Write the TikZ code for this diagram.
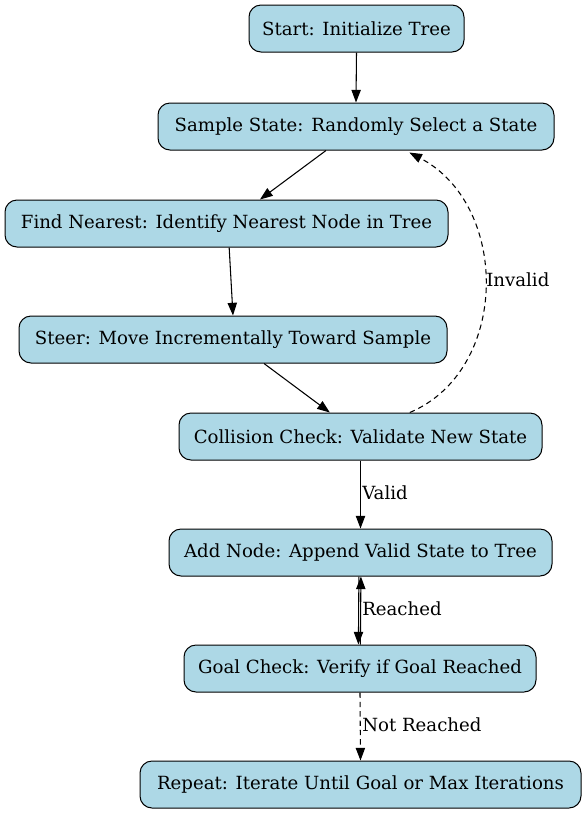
\documentclass[tikz,border=0pt]{standalone}
\usepackage{fontspec}
\setmainfont{DejaVu Serif}
\usetikzlibrary{arrows.meta}
\tikzset{
  box/.style={draw=black, line width=0.75pt, fill=lightb, rounded corners=9pt,
    minimum height=35.25pt, inner sep=0pt, font=\fontsize{13.6pt}{16pt}\selectfont},
  edge/.style={line width=0.8pt, -{Triangle[length=9.5pt,width=7pt]}},
  lbl/.style={anchor=west, inner sep=0pt, font=\fontsize{13.6pt}{16pt}\selectfont},
}
\definecolor{lightb}{HTML}{ADD8E6}
\begin{document}
\begin{tikzpicture}[x=0.75pt,y=-0.75pt]
\useasboundingbox (0,0) rectangle (587,815);
\node[box, minimum width=161.25pt] (start) at (356.5,28.5) {Start: Initialize Tree};
\node[box, minimum width=297pt] (sample) at (356,126.5) {Sample State: Randomly Select a State};
\node[box, minimum width=332.25pt] (find) at (226.5,223.5) {Find Nearest: Identify Nearest Node in Tree};
\node[box, minimum width=321pt] (steer) at (233,339.5) {Steer: Move Incrementally Toward Sample};
\node[box, minimum width=272.25pt] (coll) at (360.5,436.5) {Collision Check: Validate New State};
\node[box, minimum width=287.25pt] (add) at (360.5,552.5) {Add Node: Append Valid State to Tree};
\node[box, minimum width=264pt] (goal) at (360,668.5) {Goal Check: Verify if Goal Reached};
\node[box, minimum width=330.75pt] (rep) at (360.5,784.5) {Repeat: Iterate Until Goal or Max Iterations};

\draw[edge] (start.south) -- (sample.north);
\draw[edge] ([xshift=-22.5pt]sample.south) -- ([xshift=25.1pt]find.north);
\draw[edge] ([xshift=2pt]find.south) -- ([xshift=0pt]steer.north);
\draw[edge] ([xshift=23.25pt]steer.south) -- ([xshift=-23pt]coll.north);
\draw[edge, dashed, dash pattern=on 4pt off 3pt] ([xshift=37pt]coll.north)
  .. controls (510,370) and (510,205) .. ([xshift=40pt,yshift=-1.5pt]sample.south);
\node[lbl] (linv) at (486,280) {Invalid};
\draw[edge] (coll.south) -- (add.north);
\node[lbl] (lval) at (362,493) {Valid};
\draw[edge] ([xshift=-1.2pt]add.south) -- ([xshift=-1.2pt]goal.north);
\draw[edge] ([xshift=0.3pt]goal.north) -- ([xshift=0.3pt]add.south);
\node[lbl] (lrea) at (362,609) {Reached};
\draw[edge, dashed, dash pattern=on 4pt off 3pt] (goal.south) -- (rep.north);
\node[lbl] (lnot) at (362,725) {Not Reached};
\end{tikzpicture}
\end{document}
